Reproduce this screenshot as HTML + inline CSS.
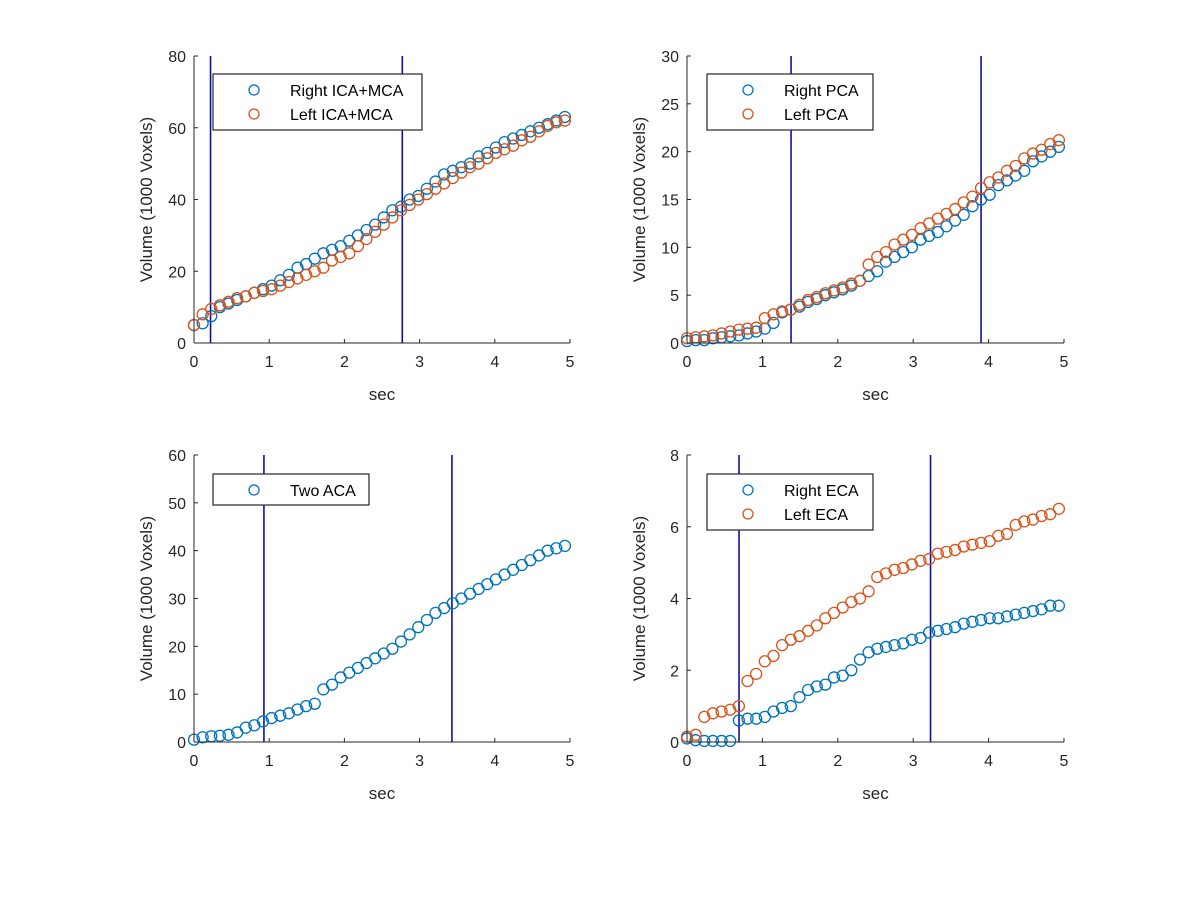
<!DOCTYPE html>
<html><head><meta charset="utf-8"><style>
body{margin:0;background:#fff;}
svg{display:block;font-family:"Liberation Sans",Arial,sans-serif;}
</style></head><body>
<svg id="fig" width="1200" height="900"></svg>
<script>
const times = Array.from({length:44},(_,i)=>i*0.1147);
const rightICA = [5,5.5,7.5,10,11,12,13,14,15,16,17.5,19,21,22,23.5,25,26,27,28.5,30,31.5,33,35,37,38,40,41,43,45,47,48,49,50,52,53,54.5,56,57,58,59,60,61,62,63];
const leftICA = [5,8,9.5,10.5,11.5,12.5,13,14,14.5,15,16,17,18,19,20,21,23,24,25,27,29,31,33,35,37,38.5,40,41.5,43,44.5,46,47.5,49,50,51.5,53,54,55,56.5,57.5,59,60.5,61.5,62];
const rightPCA = [0.2,0.3,0.3,0.5,0.6,0.7,0.8,1.0,1.2,1.5,2.1,3.2,3.5,3.8,4.3,4.6,5.0,5.3,5.6,6.0,6.5,7.0,7.5,8.5,9,9.5,10,10.8,11.2,11.6,12.2,12.8,13.4,14.3,15,15.5,16.5,17,17.5,18,19,19.5,20,20.5];
const leftPCA = [0.5,0.6,0.7,0.8,1.0,1.2,1.4,1.5,1.6,2.6,3.0,3.3,3.5,4.0,4.5,4.8,5.2,5.5,5.8,6.2,6.5,8.2,9.0,9.5,10.3,10.8,11.3,12.0,12.5,13.0,13.5,14.0,14.7,15.3,16.2,16.8,17.3,18.0,18.5,19.3,19.8,20.2,20.8,21.2];
const twoACA = [0.5,1,1.2,1.3,1.5,2,3,3.5,4.3,5,5.5,6,6.8,7.5,8,11,12,13.5,14.5,15.5,16.5,17.5,18.5,19.5,21,22.5,24,25.5,27,28,29,30,31,32,33,34,35,36,37,38,39,40,40.5,41];
const rightECA = [0.1,0.05,0.03,0.03,0.03,0.03,0.6,0.65,0.65,0.7,0.85,0.95,1.0,1.25,1.45,1.55,1.6,1.8,1.85,2.0,2.3,2.5,2.6,2.65,2.7,2.75,2.85,2.9,3.05,3.1,3.15,3.2,3.3,3.35,3.4,3.45,3.45,3.5,3.55,3.6,3.65,3.7,3.8,3.8];
const leftECA = [0.15,0.2,0.7,0.8,0.85,0.9,1.0,1.7,1.9,2.25,2.4,2.7,2.85,2.95,3.1,3.25,3.45,3.6,3.75,3.9,4.0,4.2,4.6,4.7,4.8,4.85,4.95,5.05,5.1,5.25,5.3,5.35,5.45,5.5,5.55,5.6,5.75,5.8,6.05,6.15,6.2,6.3,6.35,6.5];
const xTicks = [0,1,2,3,4,5];
const yTicks1 = [0,20,40,60,80];
const yTicks2 = [0,5,10,15,20,25,30];
const yTicks3 = [0,10,20,30,40,50,60];
const yTicks4 = [0,2,4,6,8];
const vlines1 = [0.22,2.77], vlines2=[1.38,3.9], vlines3=[0.93,3.43], vlines4=[0.69,3.23];

const NS="http://www.w3.org/2000/svg";
const svg=document.getElementById('fig');
function mk(tag,attrs,parent){const e=document.createElementNS(NS,tag);for(const k in attrs)e.setAttribute(k,attrs[k]);(parent||svg).appendChild(e);return e;}
const C1="#0072BD",C2="#D95319";

function panel(name,x0,x1,yb,yt,ymax,yTicks,vl,series,legend){
  const g=mk('g',{});
  
  
  const sx=v=>x0+(x1-x0)*v/5, sy=v=>yb-(yb-yt)*v/ymax;
  vl.forEach(v=>{const l=mk('line',{x1:sx(v),x2:sx(v),y1:yt,y2:yb,stroke:"#1010a0","stroke-width":1.6},g);
    
    });
  series.forEach(s=>{s.vals.forEach((v,i)=>{const c=mk('circle',{cx:sx(times[i]),cy:sy(v),r:5.5,fill:"none",stroke:s.color,"stroke-width":1.3},g);
    
    });});
  mk('line',{x1:x0,x2:x1,y1:yb,y2:yb,stroke:"#262626","stroke-width":1},g);
  mk('line',{x1:x0,x2:x0,y1:yt,y2:yb,stroke:"#262626","stroke-width":1},g);
  xTicks.forEach(t=>{mk('line',{x1:sx(t),x2:sx(t),y1:yb,y2:yb-4,stroke:"#262626"},g);
    const tx=mk('text',{x:sx(t),y:yb+24,"text-anchor":"middle","font-size":16,fill:"#262626"},g);tx.textContent=t;});
  yTicks.forEach(t=>{mk('line',{x1:x0,x2:x0+4,y1:sy(t),y2:sy(t),stroke:"#262626"},g);
    const tx=mk('text',{x:x0-8,y:sy(t)+6,"text-anchor":"end","font-size":16,fill:"#262626"},g);tx.textContent=t;});
  const xl=mk('text',{x:(x0+x1)/2,y:yb+57,"text-anchor":"middle","font-size":17,fill:"#262626"},g);xl.textContent="sec";
  
  const yl=mk('text',{x:0,y:0,"text-anchor":"middle","font-size":17,fill:"#262626",transform:`translate(${x0-42},${(yb+yt)/2}) rotate(-90)`},g);yl.textContent="Volume (1000 Voxels)";
  
  const lg=mk('g',{},g);
  
  
  const h=series.length*25+6;
  mk('rect',{x:legend.x,y:legend.y,width:legend.w,height:h,fill:"#fff",stroke:"#262626","stroke-width":1.2},lg);
  series.forEach((s,i)=>{const cy=legend.y+16+i*24;
    mk('circle',{cx:legend.x+41,cy:cy,r:5,fill:"none",stroke:s.color,"stroke-width":1.3},lg);
    const t=mk('text',{x:legend.x+77,y:cy+6,"font-size":16,fill:"#000"},lg);t.textContent=s.label;
    });
}
panel('panel-ica-mca',194,570,343,56,80,yTicks1,vlines1,[{id:'right-ica',vals:rightICA,color:C1,label:'Right ICA+MCA'},{id:'left-ica',vals:leftICA,color:C2,label:'Left ICA+MCA'}],{x:213,y:74,w:209});
panel('panel-pca',687,1064,343,56,30,yTicks2,vlines2,[{id:'right-pca',vals:rightPCA,color:C1,label:'Right PCA'},{id:'left-pca',vals:leftPCA,color:C2,label:'Left PCA'}],{x:707,y:74,w:166});
panel('panel-aca',194,570,742,455,60,yTicks3,vlines3,[{id:'two-aca',vals:twoACA,color:C1,label:'Two ACA'}],{x:213,y:474,w:156});
panel('panel-eca',687,1064,742,455,8,yTicks4,vlines4,[{id:'right-eca',vals:rightECA,color:C1,label:'Right ECA'},{id:'left-eca',vals:leftECA,color:C2,label:'Left ECA'}],{x:707,y:474,w:166});
</script>
</body></html>
